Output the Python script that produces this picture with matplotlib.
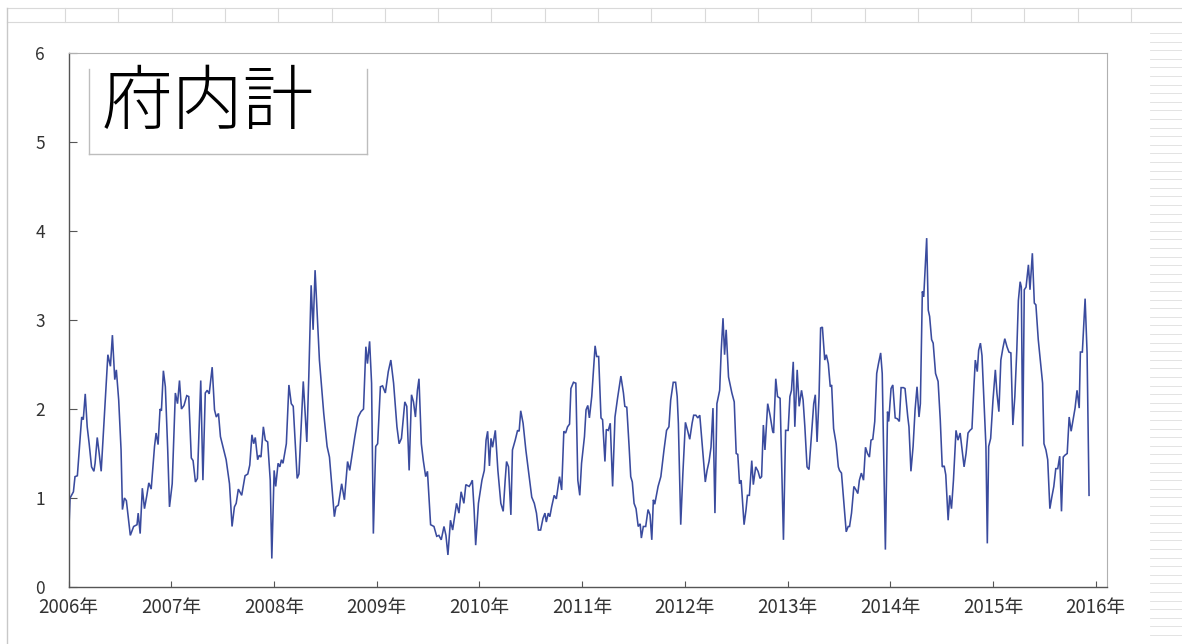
import matplotlib
matplotlib.use("Agg")
import matplotlib.pyplot as plt
from matplotlib.lines import Line2D
import numpy as np

plt.rcParams["font.family"] = ["Noto Sans CJK JP", "DejaVu Sans"]

# ── weekly readings: (week of year, value) ───────────────────────────────────
y2006 = [(0, 0.53), (0.8, 1.0), (2.5, 1.07), (3.3, 1.24), (4.5, 1.25), (6.7, 1.91), (7.5, 1.88),
         (8.5, 2.17), (9.5, 1.80), (10.5, 1.61), (11.7, 1.35), (12.9, 1.30), (13.5, 1.39), (14.6, 1.68),
         (15.6, 1.50), (16.6, 1.30), (20, 2.61), (21.3, 2.48), (22.3, 2.83), (23.5, 2.33), (24.3, 2.44),
         (25.5, 2.10), (26.7, 1.54), (27.4, 0.87), (28.4, 1.0), (29.4, 0.97), (31.4, 0.58), (33.1, 0.68),
         (34.8, 0.70), (35.4, 0.83), (36.4, 0.60), (37.5, 1.11), (38.6, 0.88), (39.8, 1.03), (40.8, 1.17),
         (42, 1.10), (43.7, 1.58), (44.5, 1.73), (45.5, 1.60), (46.5, 2.0), (47.2, 1.98), (48.2, 2.43),
         (49.2, 2.25), (50.4, 1.54), (51.3, 0.90)]
y2007 = [(0.5, 1.16), (2.1, 2.18), (3.2, 2.06), (4.2, 2.32), (5.2, 2.0), (6.5, 2.04), (7.9, 2.15),
         (8.9, 2.14), (10.2, 1.45), (11.1, 1.42), (12.3, 1.18), (13.3, 1.22), (15, 2.32), (16.1, 1.20),
         (17.3, 2.18), (18.3, 2.21), (19.3, 2.17), (20.8, 2.47), (22, 1.99), (22.9, 1.91), (24, 1.95),
         (25, 1.69), (27.9, 1.43), (29.6, 1.16), (30.9, 0.68), (32.1, 0.90), (33, 0.94), (34.1, 1.10),
         (35.8, 1.03), (37.5, 1.25), (38.9, 1.27), (39.9, 1.37), (41, 1.71), (41.9, 1.61), (42.7, 1.68),
         (43.9, 1.43), (44.7, 1.48), (45.6, 1.46), (46.8, 1.80), (47.8, 1.65), (49, 1.63), (50.3, 1.20),
         (51.1, 0.32)]
y2008 = [(0.1, 1.31), (0.9, 1.13), (2.1, 1.39), (3, 1.35), (3.8, 1.43), (4.6, 1.39), (6.3, 1.61),
         (7.6, 2.27), (8.8, 2.06), (9.8, 2.03), (11.8, 1.22), (12.7, 1.27), (14.9, 2.31), (16.7, 1.63),
         (17.7, 2.36), (18.9, 3.39), (19.9, 2.89), (20.9, 3.56), (23.1, 2.55), (25.3, 1.95), (27, 1.58),
         (28.2, 1.46), (30.7, 0.79), (31.5, 0.90), (32.7, 0.92), (34.4, 1.16), (35.8, 0.98), (37.4, 1.41),
         (38.5, 1.31), (41.1, 1.69), (42.8, 1.91), (44.2, 1.97), (45.5, 2.0), (46.7, 2.70), (47.5, 2.51),
         (48.6, 2.76), (49.6, 2.29), (50.5, 0.60), (51.7, 1.58)]
y2009 = [(0.5, 1.61), (1.9, 2.25), (3, 2.26), (4.4, 2.18), (5.9, 2.42), (7.2, 2.55), (8.6, 2.29),
         (10.3, 1.80), (11.4, 1.61), (12.6, 1.67), (14.3, 2.08), (15.3, 2.03), (16.5, 1.31), (17.7, 2.16),
         (18.7, 2.08), (19.7, 1.91), (20.7, 2.21), (21.5, 2.34), (22.7, 1.61), (23.7, 1.42), (24.9, 1.24),
         (25.8, 1.30), (27.4, 0.70), (29.1, 0.68), (30.5, 0.57), (31.6, 0.58), (32.8, 0.53), (34.2, 0.68),
         (35.2, 0.58), (36.2, 0.36), (37.5, 0.75), (38.6, 0.64), (39.6, 0.79), (40.6, 0.94), (41.8, 0.83),
         (42.9, 1.07), (44.3, 0.94), (45.3, 1.15), (47, 1.13), (47.8, 1.16), (48.6, 1.20), (49.5, 0.87),
         (50.3, 0.47), (51.7, 0.94)]
y2010 = [(1.3, 1.20), (2.5, 1.31), (3.4, 1.65), (4.2, 1.75), (5.1, 1.36), (5.9, 1.67), (6.7, 1.57),
         (8.1, 1.76), (9.4, 1.31), (10.9, 0.94), (12.1, 0.85), (13.1, 1.20), (13.8, 1.41), (14.8, 1.35),
         (16, 0.81), (16.8, 1.54), (18.2, 1.65), (19.4, 1.76), (20.2, 1.75), (21, 1.98), (22.2, 1.84),
         (23.6, 1.54), (24.9, 1.31), (26.6, 1.01), (27.9, 0.94), (29, 0.83), (30, 0.64), (31.1, 0.64),
         (32.3, 0.77), (33.3, 0.83), (34, 0.73), (35, 0.83), (35.8, 0.79), (36.7, 0.90), (38, 1.03),
         (39.1, 0.99), (40.1, 1.15), (40.7, 1.24), (41.8, 1.09), (42.9, 1.75), (43.8, 1.73), (44.8, 1.80),
         (45.8, 1.83), (46.5, 2.23), (47.8, 2.30), (49, 2.29), (50, 1.20), (51, 1.03), (51.9, 1.39)]
y2011 = [(1.2, 1.69), (2, 1.99), (2.9, 2.04), (3.7, 1.90), (4.9, 2.14), (5.9, 2.48), (6.6, 2.71),
         (7.4, 2.59), (8.4, 2.59), (9.6, 1.90), (10.4, 1.88), (11.6, 1.41), (12.3, 1.77), (13.3, 1.76),
         (14.3, 1.84), (15.5, 1.13), (16.7, 1.91), (18, 2.12), (19.7, 2.37), (21, 2.18), (21.7, 2.03),
         (22.7, 2.02), (23.9, 1.57), (24.7, 1.24), (25.5, 1.18), (26.4, 0.94), (27.4, 0.88), (28.5, 0.68),
         (29.5, 0.71), (30.1, 0.55), (31.1, 0.68), (32.3, 0.68), (33.5, 0.87), (34.5, 0.81), (35.4, 0.53),
         (36.2, 0.98), (36.9, 0.93), (38.6, 1.13), (40, 1.24), (41.6, 1.54), (42.9, 1.76), (44.1, 1.80),
         (45, 2.10), (46.3, 2.30), (47.5, 2.30), (48.3, 2.14), (48.9, 1.84), (50.1, 0.70), (51.2, 1.28)]
y2012 = [(0.3, 1.85), (1.5, 1.75), (2.5, 1.66), (3.7, 1.84), (4.5, 1.93), (5.6, 1.93), (6.6, 1.90),
         (7.6, 1.93), (8.8, 1.61), (10.4, 1.18), (11.3, 1.31), (12.3, 1.41), (13.3, 1.57), (14.3, 2.01),
         (15.3, 0.83), (16.3, 2.06), (17.7, 2.21), (18.5, 2.66), (19.4, 3.02), (20.2, 2.61), (21, 2.89),
         (22.2, 2.36), (23.9, 2.18), (25.1, 2.08), (26.1, 1.50), (26.9, 1.49), (27.8, 1.16), (28.6, 1.20),
         (30.1, 0.70), (31.1, 0.87), (31.8, 1.03), (32.8, 1.03), (34, 1.42), (34.8, 1.15), (36, 1.35),
         (37.2, 1.30), (38.2, 1.22), (39, 1.24), (39.9, 1.82), (40.7, 1.54), (42.1, 2.06), (43.3, 1.93),
         (44.6, 1.75), (45.1, 1.73), (46.2, 2.34), (47.1, 2.14), (48.4, 2.12), (50.1, 0.53), (51.2, 1.76)]
y2013 = [(0.3, 1.76), (1.2, 2.14), (2, 2.21), (2.9, 2.53), (3.7, 1.80), (4.9, 2.44), (5.9, 2.03),
         (7.1, 2.21), (7.9, 2.10), (8.8, 1.80), (9.9, 1.35), (10.9, 1.32), (12.1, 1.69), (13.3, 2.06),
         (14.1, 2.16), (15, 1.63), (16, 2.14), (16.8, 2.91), (17.7, 2.92), (18.9, 2.55), (19.7, 2.61),
         (20.7, 2.51), (21.7, 2.25), (22.4, 2.27), (23.4, 1.78), (24.7, 1.61), (25.8, 1.35), (26.4, 1.31),
         (27.4, 1.28), (28.5, 0.98), (29.8, 0.62), (30.8, 0.68), (31.5, 0.68), (32.5, 0.83), (33.7, 1.13),
         (34.8, 1.09), (35.7, 1.05), (36.5, 1.20), (37.5, 1.28), (38.6, 1.20), (39.6, 1.57), (40.6, 1.50),
         (41.6, 1.46), (42.4, 1.65), (43.3, 1.66), (44.3, 1.86), (45.3, 2.40), (46.2, 2.51), (47.3, 2.63),
         (48.1, 2.40), (49.7, 0.42), (50.8, 1.97), (51.4, 1.86)]
y2014 = [(0.4, 2.23), (1.3, 2.27), (2.5, 1.90), (3.6, 1.89), (4.6, 1.86), (5.5, 2.24), (6.7, 2.24),
         (7.5, 2.23), (8.9, 1.91), (9.5, 1.80), (10.5, 1.30), (11.6, 1.58), (12.6, 1.99), (13.6, 2.25),
         (14.6, 1.91), (15.3, 2.06), (16.3, 3.32), (17, 3.26), (18.5, 3.92), (19.3, 3.11), (20, 3.04),
         (21, 2.78), (21.8, 2.74), (23, 2.40), (24.3, 2.31), (25.4, 1.88), (26.4, 1.35), (27.4, 1.36),
         (28.2, 1.26), (29.4, 0.75), (30.2, 1.03), (31.1, 0.88), (32.1, 1.20), (33.4, 1.76), (34.4, 1.65),
         (35.5, 1.73), (36.5, 1.54), (37.5, 1.35), (38.5, 1.50), (39.5, 1.73), (40.5, 1.76), (41.5, 1.78),
         (42.5, 2.25), (43.2, 2.55), (44.2, 2.42), (44.9, 2.66), (45.8, 2.74), (46.6, 2.60), (47.6, 2.10),
         (48.6, 1.58), (49.3, 0.49), (50, 1.58), (51, 1.67)]
y2015 = [(0, 2.10), (1.2, 2.44), (2, 2.18), (3, 1.97), (4, 2.55), (5, 2.68), (6, 2.79), (7.1, 2.70),
         (8.1, 2.64), (9.1, 2.63), (10.1, 1.82), (11.1, 2.14), (12.1, 2.66), (12.9, 3.22), (13.8, 3.43),
         (14.4, 3.37), (15.1, 1.58), (15.9, 3.34), (16.8, 3.37), (18, 3.62), (18.8, 3.34), (20, 3.75),
         (21, 3.19), (21.8, 3.17), (23, 2.78), (25.2, 2.29), (25.9, 1.61), (26.9, 1.54), (27.8, 1.43),
         (28.9, 0.88), (29.8, 1.0), (30.9, 1.13), (31.9, 1.33), (32.9, 1.33), (33.9, 1.47), (34.8, 0.85),
         (35.7, 1.46), (36.5, 1.48), (37.7, 1.50), (38.7, 1.91), (39.7, 1.75), (40.7, 1.88), (41.7, 2.01),
         (42.7, 2.21), (43.8, 2.01), (44.4, 2.64), (45.4, 2.64), (46.8, 3.24), (47.8, 2.63), (48.8, 1.03)]

years = list(range(2006, 2016))
series = [y2006, y2007, y2008, y2009, y2010, y2011, y2012, y2013, y2014, y2015]
tick_years = list(range(2006, 2017))
tick_labels = [f"{y}年" for y in tick_years]
title = "府内計"

x, v = [], []
for yr, pts in zip(years, series):
    for w, val in pts:
        x.append(yr + w / 52.18)
        v.append(val)

W, H = 1182, 644
fig = plt.figure(figsize=(W / 100, H / 100), dpi=100, facecolor="white")

# spreadsheet remnants around the chart object
grid_c = "#d9d9d9"
def fline(x0, y0, x1, y1, c=grid_c, lw=0.8):
    fig.add_artist(Line2D([x0 / W, x1 / W], [1 - y0 / H, 1 - y1 / H], color=c, lw=lw,
                          transform=fig.transFigure))

fline(7, 8, W, 8)
fline(7, 22, W, 22)
for cx in np.arange(65, W, 53.3):
    fline(cx, 8, cx, 22)
fline(7, 8, 7, H, c="#c8c8c8", lw=1.0)
for ry in np.arange(33, H, 8.6):
    fline(1150, ry, W, ry, c="#dedede", lw=0.6)

ax = fig.add_axes([68.5 / W, 57 / H, (1107 - 68.5) / W, (587 - 53) / H])
ax.plot(x, v, color="#3a4b9e", lw=1.15, solid_joinstyle="miter")

ax.set_xlim(2006, 2016.11)
ax.set_ylim(0, 6)
ax.set_xticks(tick_years)
ax.set_xticklabels(tick_labels)
ax.set_yticks(range(0, 7))
ax.tick_params(axis="x", direction="in", length=4, width=0.8, color="#555555",
               labelsize=13.5, labelcolor="#333333", pad=7)
ax.tick_params(axis="y", direction="in", length=6, width=0.8, color="#555555",
               labelsize=12.5, labelcolor="#333333", pad=17)
for s in ("left", "bottom"):
    ax.spines[s].set_color("#555555")
    ax.spines[s].set_linewidth(1.0)
for s in ("top", "right"):
    ax.spines[s].set_color("#b0b0b0")
    ax.spines[s].set_linewidth(0.8)

# title box
fline(89, 69, 89, 154, c="#bdbdbd", lw=1.0)
fline(367, 69, 367, 154, c="#bdbdbd", lw=1.0)
fline(89, 154, 367, 154, c="#bdbdbd", lw=1.0)
fig.text(102 / W, 1 - 104 / H, title, fontsize=51, fontweight="light", color="black",
         ha="left", va="center")

fig.savefig("out.png", dpi=100, facecolor="white")
